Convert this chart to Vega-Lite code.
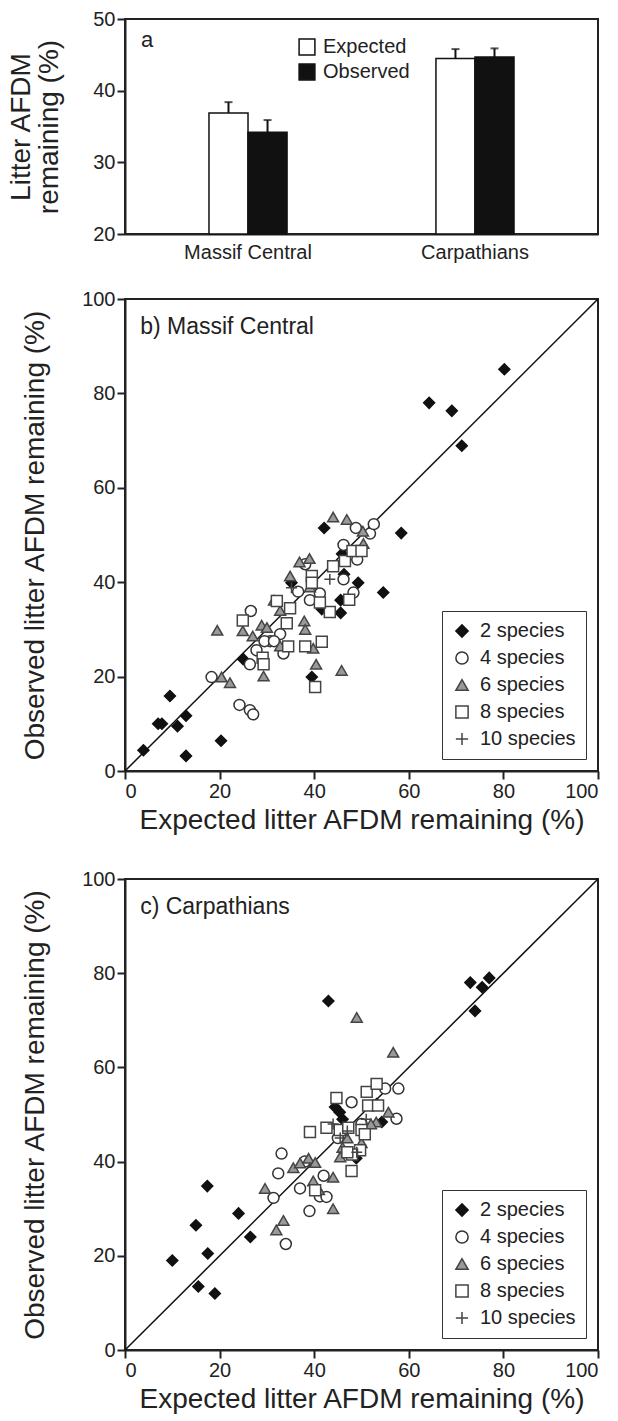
{
  "$schema": "https://vega.github.io/schema/vega-lite/v6.json",
  "background": "white",
  "padding": {"left": 6, "top": 8, "right": 3, "bottom": 5},
  "config": {
    "font": "Liberation Sans",
    "view": {"stroke": "#222", "strokeWidth": 2},
    "axis": {"grid": false, "domainColor": "#222", "domainWidth": 2, "tickColor": "#222", "tickWidth": 2, "tickSize": 8, "labelFontSize": 20, "labelColor": "#222", "titleFontSize": 28, "titleFontWeight": "normal", "titleColor": "#222", "labelFont": "Liberation Sans", "titleFont": "Liberation Sans"},
    "legend": {"labelFont": "Liberation Sans", "labelColor": "#222", "labelFontSize": 20},
    "title": {"font": "Liberation Sans", "fontWeight": "normal", "color": "#222"}
  },
  "datasets": {
    "bars": [
      {"site": "Massif Central", "type": "Expected", "mean": 36.9, "upper": 38.4},
      {"site": "Massif Central", "type": "Observed", "mean": 34.2, "upper": 35.9},
      {"site": "Carpathians", "type": "Expected", "mean": 44.5, "upper": 45.8},
      {"site": "Carpathians", "type": "Observed", "mean": 44.7, "upper": 45.9}
    ],
    "diag": [{"e": 0, "o": 0}, {"e": 100, "o": 100}],
    "massif": [
      {"g":"2 species","e":3.9,"o":4.4},{"g":"2 species","e":7.0,"o":10.0},{"g":"2 species","e":7.8,"o":10.0},{"g":"2 species","e":9.5,"o":15.9},{"g":"2 species","e":11.1,"o":9.5},{"g":"2 species","e":12.9,"o":11.7},{"g":"2 species","e":12.9,"o":3.2},{"g":"2 species","e":20.3,"o":6.4},{"g":"2 species","e":25.0,"o":23.7},{"g":"2 species","e":39.5,"o":19.9},{"g":"2 species","e":42.1,"o":51.5},{"g":"2 species","e":58.4,"o":50.4},{"g":"2 species","e":45.9,"o":46.0},{"g":"2 species","e":49.3,"o":39.9},{"g":"2 species","e":54.6,"o":37.8},{"g":"2 species","e":35.2,"o":39.9},{"g":"2 species","e":41.6,"o":34.3},{"g":"2 species","e":45.6,"o":33.5},{"g":"2 species","e":45.6,"o":36.2},{"g":"2 species","e":46.3,"o":41.7},{"g":"2 species","e":64.3,"o":78.0},{"g":"2 species","e":69.1,"o":76.3},{"g":"2 species","e":71.2,"o":68.9},{"g":"2 species","e":80.2,"o":85.1},
      {"g":"4 species","e":18.3,"o":19.9},{"g":"4 species","e":24.2,"o":14.0},{"g":"4 species","e":26.4,"o":12.9},{"g":"4 species","e":27.1,"o":12.0},{"g":"4 species","e":26.6,"o":33.9},{"g":"4 species","e":26.4,"o":22.6},{"g":"4 species","e":27.8,"o":25.6},{"g":"4 species","e":30.7,"o":27.5},{"g":"4 species","e":32.8,"o":29.0},{"g":"4 species","e":33.5,"o":24.9},{"g":"4 species","e":36.6,"o":38.0},{"g":"4 species","e":38.1,"o":43.8},{"g":"4 species","e":39.1,"o":36.2},{"g":"4 species","e":41.2,"o":37.6},{"g":"4 species","e":46.2,"o":47.9},{"g":"4 species","e":46.2,"o":40.6},{"g":"4 species","e":48.3,"o":37.8},{"g":"4 species","e":49.1,"o":44.8},{"g":"4 species","e":48.8,"o":51.5},{"g":"4 species","e":51.8,"o":50.3},{"g":"4 species","e":52.6,"o":52.3},{"g":"4 species","e":29.5,"o":27.5},{"g":"4 species","e":31.5,"o":27.5},
      {"g":"6 species","e":19.5,"o":29.8},{"g":"6 species","e":20.4,"o":19.9},{"g":"6 species","e":22.2,"o":18.7},{"g":"6 species","e":24.9,"o":29.7},{"g":"6 species","e":27.0,"o":28.6},{"g":"6 species","e":28.9,"o":30.9},{"g":"6 species","e":29.3,"o":20.1},{"g":"6 species","e":30.0,"o":30.4},{"g":"6 species","e":31.5,"o":36.2},{"g":"6 species","e":32.8,"o":34.0},{"g":"6 species","e":32.8,"o":26.5},{"g":"6 species","e":34.9,"o":41.3},{"g":"6 species","e":36.9,"o":44.3},{"g":"6 species","e":39.0,"o":45.0},{"g":"6 species","e":37.9,"o":31.8},{"g":"6 species","e":38.1,"o":30.0},{"g":"6 species","e":39.8,"o":26.0},{"g":"6 species","e":40.4,"o":22.6},{"g":"6 species","e":44.0,"o":53.8},{"g":"6 species","e":46.9,"o":53.3},{"g":"6 species","e":45.8,"o":21.3},{"g":"6 species","e":50.3,"o":50.8},{"g":"6 species","e":50.4,"o":48.2},{"g":"6 species","e":39.1,"o":39.0},
      {"g":"8 species","e":24.9,"o":31.9},{"g":"8 species","e":29.1,"o":24.0},{"g":"8 species","e":29.3,"o":22.6},{"g":"8 species","e":32.1,"o":36.0},{"g":"8 species","e":34.9,"o":34.5},{"g":"8 species","e":34.2,"o":31.3},{"g":"8 species","e":34.5,"o":26.4},{"g":"8 species","e":38.1,"o":26.4},{"g":"8 species","e":41.6,"o":27.4},{"g":"8 species","e":40.2,"o":17.8},{"g":"8 species","e":39.5,"o":41.3},{"g":"8 species","e":39.5,"o":39.9},{"g":"8 species","e":43.3,"o":33.7},{"g":"8 species","e":44.0,"o":43.4},{"g":"8 species","e":46.5,"o":44.5},{"g":"8 species","e":47.4,"o":36.3},{"g":"8 species","e":48.1,"o":46.6},{"g":"8 species","e":50.0,"o":46.6},{"g":"8 species","e":41.2,"o":35.7},
      {"g":"10 species","e":35.2,"o":38.8},{"g":"10 species","e":43.3,"o":40.6}
    ],
    "carp": [
      {"g":"2 species","e":10,"o":19},{"g":"2 species","e":15,"o":26.5},{"g":"2 species","e":15.5,"o":13.5},{"g":"2 species","e":17.4,"o":34.8},{"g":"2 species","e":17.5,"o":20.5},{"g":"2 species","e":19,"o":12},{"g":"2 species","e":24,"o":29},{"g":"2 species","e":26.5,"o":24},{"g":"2 species","e":43,"o":74.1},{"g":"2 species","e":44.4,"o":51.6},{"g":"2 species","e":45.4,"o":50.5},{"g":"2 species","e":53.2,"o":52.2},{"g":"2 species","e":54.3,"o":48.4},{"g":"2 species","e":48.9,"o":40.7},{"g":"2 species","e":47,"o":47},{"g":"2 species","e":73,"o":78},{"g":"2 species","e":74,"o":72},{"g":"2 species","e":75.5,"o":77},{"g":"2 species","e":77,"o":79},{"g":"2 species","e":46,"o":49},
      {"g":"4 species","e":31.4,"o":32.3},{"g":"4 species","e":32.4,"o":37.5},{"g":"4 species","e":33.1,"o":41.7},{"g":"4 species","e":34,"o":22.5},{"g":"4 species","e":37,"o":34.3},{"g":"4 species","e":39,"o":29.5},{"g":"4 species","e":41.2,"o":32.6},{"g":"4 species","e":42.6,"o":32.5},{"g":"4 species","e":47.9,"o":52.6},{"g":"4 species","e":57.4,"o":49.1},{"g":"4 species","e":57.8,"o":55.5},{"g":"4 species","e":38,"o":40},{"g":"4 species","e":45,"o":45},{"g":"4 species","e":50,"o":48},{"g":"4 species","e":55,"o":55.5},{"g":"4 species","e":42,"o":37},
      {"g":"6 species","e":29.6,"o":34.3},{"g":"6 species","e":32,"o":25.5},{"g":"6 species","e":33.5,"o":27.5},{"g":"6 species","e":35.6,"o":38.7},{"g":"6 species","e":37,"o":39.7},{"g":"6 species","e":38.8,"o":40.7},{"g":"6 species","e":40.2,"o":39.8},{"g":"6 species","e":39.8,"o":35.9},{"g":"6 species","e":44,"o":36.7},{"g":"6 species","e":44,"o":30},{"g":"6 species","e":49,"o":70.6},{"g":"6 species","e":56.7,"o":63.2},{"g":"6 species","e":55.7,"o":50.5},{"g":"6 species","e":53.1,"o":48.4},{"g":"6 species","e":46,"o":43},{"g":"6 species","e":47,"o":45},{"g":"6 species","e":41,"o":34},{"g":"6 species","e":45.5,"o":41},{"g":"6 species","e":50,"o":44},{"g":"6 species","e":52,"o":48},
      {"g":"8 species","e":39.1,"o":46.3},{"g":"8 species","e":40.2,"o":33.9},{"g":"8 species","e":44.7,"o":53.5},{"g":"8 species","e":42.6,"o":47.2},{"g":"8 species","e":45.4,"o":46.7},{"g":"8 species","e":47.2,"o":47.2},{"g":"8 species","e":50,"o":46.7},{"g":"8 species","e":50.7,"o":45.8},{"g":"8 species","e":47.9,"o":38.0},{"g":"8 species","e":49.7,"o":42.4},{"g":"8 species","e":51.1,"o":54.8},{"g":"8 species","e":51.4,"o":51.9},{"g":"8 species","e":53.5,"o":51.9},{"g":"8 species","e":53.2,"o":56.5},{"g":"8 species","e":48,"o":41.5},{"g":"8 species","e":47,"o":42},
      {"g":"10 species","e":44,"o":48},{"g":"10 species","e":45.5,"o":45},{"g":"10 species","e":47,"o":46.5},{"g":"10 species","e":49,"o":42},{"g":"10 species","e":51,"o":49}
    ]
  },
  "bounds": "flush",
  "spacing": 65,
  "vconcat": [
    {
      "width": 473, "height": 215,
      "title": {"text": "a", "anchor": "start", "frame": "group", "offset": -43, "dx": 16, "fontSize": 22},
      "data": {"name": "bars"},
      "encoding": {
        "x": {"field": "site", "type": "nominal", "sort": ["Massif Central", "Carpathians"], "scale": {"paddingInner": 0.656, "paddingOuter": 0.37}, "axis": {"title": null, "labelAngle": 0, "ticks": false, "labelPadding": 8}},
        "xOffset": {"field": "type", "type": "nominal", "sort": ["Expected", "Observed"], "scale": {"paddingInner": 0, "paddingOuter": 0}}
      },
      "layer": [
        {"mark": {"type": "bar", "stroke": "#111", "strokeWidth": 1.5},
         "encoding": {
           "y": {"field": "mean", "type": "quantitative", "scale": {"domain": [20, 50], "zero": false, "nice": false}, "axis": {"values": [20, 30, 40, 50], "title": ["Litter AFDM", "remaining (%)"], "titlePadding": 29, "titleLineHeight": 28}},
           "y2": {"datum": 20},
           "fill": {"field": "type", "type": "nominal", "scale": {"domain": ["Expected", "Observed"], "range": ["white", "#111"]},
             "legend": {"title": null, "orient": "none", "legendX": 172, "legendY": 18, "symbolType": "square", "symbolSize": 250, "symbolStrokeColor": "#111", "symbolStrokeWidth": 1.5, "rowPadding": 3, "labelOffset": 6}}
         }},
        {"mark": {"type": "rule", "strokeWidth": 2, "color": "#111"},
         "encoding": {"y": {"field": "mean", "type": "quantitative"}, "y2": {"field": "upper"}}},
        {"mark": {"type": "tick", "thickness": 2, "size": 8, "color": "#111", "orient": "horizontal"},
         "encoding": {"y": {"field": "upper", "type": "quantitative"}}}
      ]
    },
    {
      "bounds": "flush",
      "spacing": 108,
      "resolve": {"scale": {"shape": "independent", "fill": "independent", "stroke": "independent"}, "legend": {"shape": "independent", "fill": "independent", "stroke": "independent"}},
      "vconcat": [
        {
          "width": 473, "height": 472,
          "layer": [
            {"data": {"name": "diag"}, "mark": {"type": "line", "color": "#111", "strokeWidth": 1.5},
             "encoding": {"x": {"field": "e", "type": "quantitative"}, "y": {"field": "o", "type": "quantitative"}}},
            {"data": {"name": "massif"}, "mark": {"type": "point", "filled": true, "opacity": 1, "strokeWidth": 1.5, "size": 120},
             "encoding": {
               "x": {"field": "e", "type": "quantitative", "scale": {"domain": [0, 100], "nice": false}, "axis": {"values": [0, 20, 40, 60, 80, 100], "title": "Expected litter AFDM remaining (%)", "titlePadding": 5}},
               "y": {"field": "o", "type": "quantitative", "scale": {"domain": [0, 100], "nice": false}, "axis": {"values": [0, 20, 40, 60, 80, 100], "title": "Observed litter AFDM remaining (%)", "titlePadding": 32}},
               "shape": {"field": "g", "type": "nominal", "scale": {"domain": ["2 species", "4 species", "6 species", "8 species", "10 species"], "range": ["diamond", "circle", "triangle-up", "square", "M-1,0H1M0,-1V1"]}, "legend": {"title": null, "orient": "bottom-right", "offset": 12, "strokeColor": "#333", "padding": 10, "rowPadding": 7, "symbolSize": 150, "symbolStrokeWidth": 1.5, "labelOffset": 8}},
               "fill": {"field": "g", "type": "nominal", "scale": {"domain": ["2 species", "4 species", "6 species", "8 species", "10 species"], "range": ["#111", "white", "#999", "white", "transparent"]}},
               "stroke": {"field": "g", "type": "nominal", "scale": {"domain": ["2 species", "4 species", "6 species", "8 species", "10 species"], "range": ["#111", "#333", "#444", "#444", "#444"]}}
             }},
            {"data": {"values": [{}]}, "mark": {"type": "text", "text": "b) Massif Central", "align": "left", "baseline": "middle", "fontSize": 23, "color": "#222"},
             "encoding": {"x": {"datum": 3.2}, "y": {"datum": 94}}}
          ]
        },
        {
          "width": 473, "height": 471,
          "layer": [
            {"data": {"name": "diag"}, "mark": {"type": "line", "color": "#111", "strokeWidth": 1.5},
             "encoding": {"x": {"field": "e", "type": "quantitative"}, "y": {"field": "o", "type": "quantitative"}}},
            {"data": {"name": "carp"}, "mark": {"type": "point", "filled": true, "opacity": 1, "strokeWidth": 1.5, "size": 120},
             "encoding": {
               "x": {"field": "e", "type": "quantitative", "scale": {"domain": [0, 100], "nice": false}, "axis": {"values": [0, 20, 40, 60, 80, 100], "title": "Expected litter AFDM remaining (%)", "titlePadding": 5}},
               "y": {"field": "o", "type": "quantitative", "scale": {"domain": [0, 100], "nice": false}, "axis": {"values": [0, 20, 40, 60, 80, 100], "title": "Observed litter AFDM remaining (%)", "titlePadding": 32}},
               "shape": {"field": "g", "type": "nominal", "scale": {"domain": ["2 species", "4 species", "6 species", "8 species", "10 species"], "range": ["diamond", "circle", "triangle-up", "square", "M-1,0H1M0,-1V1"]}, "legend": {"title": null, "orient": "bottom-right", "offset": 12, "strokeColor": "#333", "padding": 10, "rowPadding": 7, "symbolSize": 150, "symbolStrokeWidth": 1.5, "labelOffset": 8}},
               "fill": {"field": "g", "type": "nominal", "scale": {"domain": ["2 species", "4 species", "6 species", "8 species", "10 species"], "range": ["#111", "white", "#999", "white", "transparent"]}},
               "stroke": {"field": "g", "type": "nominal", "scale": {"domain": ["2 species", "4 species", "6 species", "8 species", "10 species"], "range": ["#111", "#333", "#444", "#444", "#444"]}}
             }},
            {"data": {"values": [{}]}, "mark": {"type": "text", "text": "c) Carpathians", "align": "left", "baseline": "middle", "fontSize": 23, "color": "#222"},
             "encoding": {"x": {"datum": 3.2}, "y": {"datum": 94}}}
          ]
        }
      ]
    }
  ],
  "resolve": {"scale": {"shape": "independent", "fill": "independent", "stroke": "independent"}, "legend": {"shape": "independent", "fill": "independent", "stroke": "independent"}}
}
